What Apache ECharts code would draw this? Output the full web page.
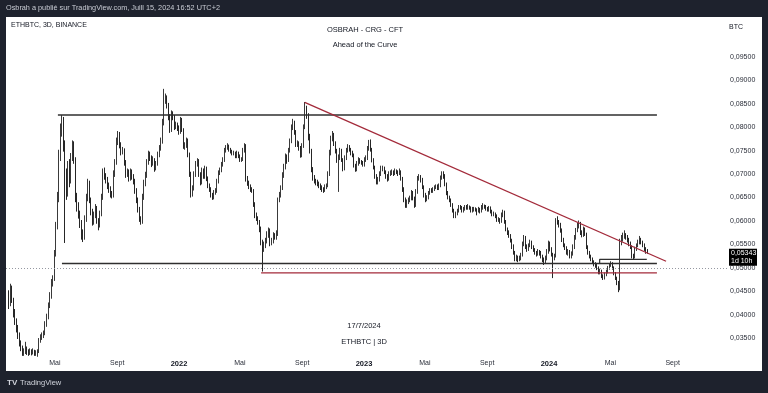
<!DOCTYPE html>
<html><head><meta charset="utf-8">
<script src="https://cdn.jsdelivr.net/npm/echarts@6/dist/echarts.min.js"></script>
<style>
html,body{margin:0;padding:0;background:#1e222d;width:768px;height:393px;overflow:hidden;}
#panel{position:absolute;left:6px;top:17px;width:756px;height:354px;background:#ffffff;}
#chart{position:absolute;left:0;top:0;width:768px;height:393px;}
</style></head><body>
<div id="panel"></div><div id="chart"></div>
<script>
// ETHBTC, 3D candles, Binance. Each row: [open, high, low, close] in units of 0.0001 BTC
const startDate = '2021-01-30';
const periodDays = 3;
const priceUnit = 0.0001;
const candles2021 = [
[440,452,412,420],[420,466,418,457],[457,462,425,430],[430,436,394,400],[400,412,378,385],[385,392,362,372],[372,378,348,355],[355,362,332,339],[339,345,322,328],[328,334,312,318],
[318,328,312,320],[320,342,316,326],[326,332,314,322],[322,326,312,318],[318,328,314,321],[321,326,313,319],[319,328,315,322],[322,325,312,318],[318,324,312,318],[318,326,310,320],
[320,350,318,345],[345,358,340,352],[352,362,346,356],[356,366,350,360],[360,386,356,380],[380,402,374,395],[395,426,390,420],[420,448,414,440],[440,476,434,470],[470,484,460,476],
[476,538,472,530],[530,598,524,590],[590,662,582,650],[650,752,640,740],[740,808,728,795],[795,826,780,815],[815,822,748,760],[760,772,553,700],[700,712,645,660],[660,728,652,720],
[720,732,672,685],[685,745,680,737],[737,772,728,765],[765,770,722,730],[730,736,640,650],[650,660,620,630],[630,640,605,615],[615,622,585,595],[595,602,560,570],[570,582,555,565],
[565,612,560,605],[605,658,598,650],[650,690,642,680],[680,686,638,645],[645,650,612,620],[620,626,590,598],[598,620,592,612],[612,636,606,628],[628,632,594,600],[600,606,580,590],
[590,622,586,616],[616,658,610,650],[650,712,645,705],[705,714,688,695],[695,702,680,688],[688,694,668,675],[675,682,660,668],[668,674,650,657],[657,664,648,655],[655,708,650,700],
[700,732,694,725],[725,778,720,770],[770,792,762,785],[785,790,755,762],[762,768,740,748],[748,758,742,750],[750,755,718,725],[725,730,692,700],[700,712,694,705],[705,710,684,690],
[690,712,686,705],[705,710,688,695],[695,700,678,685],[685,690,658,665],[665,670,638,645],[645,650,618,625],[625,630,598,605],[605,610,592,598],[598,658,594,650],[650,688,645,680],
[680,705,674,698],[698,732,692,725],[725,750,720,742],[742,748,728,735],[735,740,715,722],[722,738,718,730],[730,734,705,712],[712,728,708,722],[722,748,718,742],[742,762,736,755],
[755,778,750,770],[770,818,765,810],[810,882,804,860],[860,872,850,862],[862,868,840,848],[848,852,815,822],[822,828,788,795],[795,836,790,828],[828,834,815,822],[822,826,794,800],
[800,812,796,805],[805,810,792,800]
];
const candles2022 = [
[800,804,784,790],[790,822,786,815],[815,820,790,795],[795,798,754,760],[760,768,752,762],[762,778,756,773],[773,776,736,742],[742,746,694,700],[700,705,650,660],[660,676,652,670],
[670,706,665,700],[700,728,694,722],[722,734,716,728],[728,732,694,700],[700,704,676,682],[682,714,678,708],[708,712,690,695],[695,718,690,712],[712,716,685,690],[690,695,670,676],
[676,680,662,668],[668,672,650,655],[655,660,645,650],[650,666,646,660],[660,670,656,664],[664,690,660,685],[685,708,680,702],[702,714,698,708],[708,726,704,720],[720,736,716,730],
[730,756,726,750],[750,762,746,756],[756,766,752,760],[760,763,748,752],[752,756,744,748],[748,752,740,744],[744,750,740,745],[745,748,734,738],[738,750,734,744],[744,748,734,738],
[738,742,726,730],[730,736,726,730],[730,756,728,750],[750,766,746,762],[762,764,684,690],[690,696,675,680],[680,686,668,673],[673,678,662,668],[668,672,660,665],[665,668,630,635],
[635,640,606,612],[612,618,600,605],[605,610,592,597],[597,602,576,582],[582,588,548,555],[555,560,492,540],[540,556,534,548],[548,564,542,558],[558,578,552,570],[570,586,564,580],
[580,584,546,553],[553,564,548,558],[558,576,552,570],[570,574,560,566],[566,580,560,572],[572,650,568,645],[645,662,640,655],[655,676,650,670],[670,704,666,698],[698,722,692,715],
[715,744,710,737],[737,742,722,730],[730,756,726,750],[750,776,746,770],[770,806,766,800],[800,818,794,810],[810,814,784,790],[790,794,758,765],[765,772,758,765],[765,770,750,755],
[755,760,735,740],[740,766,736,760],[760,806,756,800],[800,854,796,840],[840,846,818,825],[825,830,772,780],[780,786,744,750],[750,754,704,710],[710,715,686,692],[692,698,680,685],
[685,690,676,682],[682,688,674,680],[680,684,670,676],[676,680,666,672],[672,676,662,668],[668,672,660,666],[666,678,662,672],[672,680,668,675],[675,706,672,700],[700,752,696,745],
[745,782,740,775],[775,792,770,785],[785,788,760,765],[765,770,744,750],[750,754,724,730],[730,742,662,735],[735,756,730,750],[750,754,726,730],[730,734,706,712],[712,740,708,735],
[735,756,730,750],[750,764,746,758],[758,762,748,752],[752,756,740,745],[745,750,736,740],[740,744,714,718],[718,722,705,710],[710,728,706,722],[722,736,718,730],[730,734,722,726],
[726,730,720,724],[724,728,716,720]
];
const candles2023 = [
[720,736,716,730],[730,740,726,735],[735,760,730,755],[755,773,750,770],[770,774,748,752],[752,756,725,730],[730,734,710,715],[715,718,690,695],[695,700,678,683],[683,694,678,688],
[688,706,684,700],[700,718,696,712],[712,718,706,712],[712,716,700,705],[705,708,690,695],[695,700,684,690],[690,706,686,700],[700,708,696,702],[702,710,698,705],[705,708,696,702],
[702,712,698,706],[706,710,700,705],[705,708,696,702],[702,712,698,706],[706,708,686,690],[690,694,662,668],[668,672,640,645],[645,650,628,632],[632,646,628,640],[640,650,636,645],
[645,654,640,648],[648,666,644,660],[660,664,644,648],[648,652,628,633],[633,668,630,662],[662,696,658,690],[690,700,686,695],[695,698,682,688],[688,692,668,672],[672,676,650,655],
[655,660,640,645],[645,655,642,650],[650,664,646,660],[660,670,656,666],[666,670,660,664],[664,672,660,668],[668,676,664,672],[672,678,668,675],[675,678,666,670],[670,680,666,675],
[675,697,672,692],[692,706,688,702],[702,706,690,696],[696,700,674,678],[678,682,655,660],[660,664,646,650],[650,654,640,645],[645,648,630,635],[635,638,618,622],[622,626,606,610],
[610,620,606,615],[615,626,612,622],[622,634,618,630],[630,634,624,628],[628,632,618,622],[622,630,618,626],[626,634,622,630],[630,634,624,628],[628,636,624,630],[630,633,624,628],
[628,631,618,622],[622,630,618,625],[625,630,620,626],[626,629,620,624],[624,627,612,622],[622,630,618,626],[626,628,616,620],[620,634,618,628],[628,638,624,632],[632,635,626,630],
[630,634,622,626],[626,630,620,624],[624,632,620,628],[628,631,616,620],[620,624,610,615],[615,620,610,615],[615,618,606,610],[610,614,598,602],[602,608,598,603],[603,606,594,598],
[598,618,596,612],[612,624,608,618],[618,622,594,598],[598,602,578,582],[582,586,570,575],[575,580,564,568],[568,572,554,558],[558,562,540,545],[545,550,528,532],[532,536,514,518],
[518,528,514,522],[522,526,512,518],[518,526,514,520],[520,532,516,528],[528,556,524,550],[550,570,546,565],[565,568,540,545],[545,550,534,540],[540,552,536,548],[548,560,544,555],
[555,558,540,545],[545,548,534,538],[538,542,528,533],[533,536,524,530],[530,540,526,535],[535,538,526,532],[532,536,520,525],[525,528,512,518],[518,522,506,512],[512,526,508,520],
[520,540,516,535],[535,558,530,552]
];
const candles2024 = [
[552,556,535,540],[540,544,524,528],[528,532,478,522],[522,530,516,525],[525,606,522,600],[600,610,592,598],[598,602,586,592],[592,596,575,580],[580,584,555,560],[560,564,544,548],
[548,552,538,542],[542,546,528,532],[532,540,526,535],[535,538,520,525],[525,535,520,530],[530,550,526,545],[545,570,540,565],[565,585,560,580],[580,596,576,590],[590,601,584,595],
[595,598,570,575],[575,580,565,570],[570,588,566,582],[582,586,568,572],[572,575,540,545],[545,548,528,532],[532,536,520,525],[525,528,514,518],[518,522,508,513],[513,516,503,508],
[508,512,500,505],[505,508,495,500],[500,503,486,490],[490,498,486,493],[493,496,478,482],[482,486,474,478],[478,490,475,485],[485,496,482,492],[492,504,488,500],[500,510,496,506],
[506,514,502,510],[510,512,496,500],[500,503,484,488],[488,491,474,478],[478,481,463,468],[468,472,448,455],[455,562,452,555],[555,570,548,562],[562,575,556,568],[568,580,562,570],
[570,574,560,566],[566,570,554,560],[560,564,546,552],[552,556,540,545],[545,548,520,525],[525,530,518,522],[522,545,520,540],[540,552,536,548],[548,560,544,555],[555,568,550,560],
[560,564,550,555],[555,558,544,548],[548,552,536,540],[540,544,530,535],[535,540,530,534.3]
];
const lastPrice = 0.05343;
const countdown = '1d 10h';
const yTicks = [0.035,0.040,0.045,0.050,0.055,0.060,0.065,0.070,0.075,0.080,0.085,0.090,0.095];
const xTicks = ['2021-05-01','2021-09-01','2022-01-01','2022-05-01','2022-09-01','2023-01-01','2023-05-01','2023-09-01','2024-01-01','2024-05-01','2024-09-01'];
const resistanceTop = [['2021-05-07',0.0826],['2024-08-01',0.0826]];
const supportBlack = [['2021-05-15',0.0509],['2024-08-01',0.0509]];
const supportRed = [['2022-06-12',0.0489],['2024-08-01',0.0489]];
const trendRed = [['2022-09-06',0.0853],['2024-08-19',0.0514]];
const rangeBox = [['2024-04-10',0.0509],['2024-04-10',0.0518],['2024-07-12',0.0518]];
const xRange = ['2021-01-24T14:24:00Z','2024-12-21T04:48:00Z'];
const yRange = [0.03117, 0.10354];

const DAY = 86400000;
const t0 = Date.parse(startDate);
const allCandles = candles2021.concat(candles2022, candles2023, candles2024);
const source = allCandles.map((r, i) => [t0 + i * periodDays * DAY, r[0]*priceUnit, r[3]*priceUnit, r[2]*priceUnit, r[1]*priceUnit]);
const toPts = arr => arr.map(p => [Date.parse(p[0]), p[1]]);
const FONT = '"Liberation Sans", Arial, sans-serif';

const chart = echarts.init(document.getElementById('chart'), null, {renderer: 'canvas'});
function lineSeries(pts, color, w) {
  return {type: 'line', data: toPts(pts), symbol: 'none', silent: true, z: 4, animation: false,
    lineStyle: {color: color, width: w}};
}
chart.setOption({
  animation: false,
  backgroundColor: 'transparent',
  textStyle: {fontFamily: FONT},
  grid: {left: 6, right: 39, top: 17, bottom: 37, containLabel: false},
  xAxis: {
    type: 'value', min: Date.parse(xRange[0]), max: Date.parse(xRange[1]),
    axisLine: {show: false}, axisTick: {show: false}, splitLine: {show: false},
    axisLabel: {
      customValues: xTicks.map(d => Date.parse(d)),
      margin: 4, fontSize: 7, color: '#2a2e39', fontFamily: FONT,
      formatter: function (v) {
        const d = new Date(v); const m = d.getUTCMonth();
        if (m === 0) return '{y|' + d.getUTCFullYear() + '}';
        return m === 4 ? 'Mai' : 'Sept';
      },
      rich: {y: {fontWeight: 'bold', fontSize: 7.5, color: '#131722', fontFamily: FONT}}
    }
  },
  yAxis: {
    type: 'value', position: 'right', min: yRange[0], max: yRange[1],
    axisLine: {show: false}, axisTick: {show: false}, splitLine: {show: false},
    axisLabel: {
      customValues: yTicks, margin: 1, fontSize: 7, color: '#2a2e39', fontFamily: FONT,
      formatter: v => v.toFixed(5).replace('.', ',')
    }
  },
  series: [
    {
      type: 'candlestick', data: source, barWidth: 1.2, z: 2,
      itemStyle: {color: '#6e6e6e', color0: '#2c2c2c', borderColor: '#3a3a3a', borderColor0: '#262626', borderWidth: 1},
      markLine: {
        silent: true, symbol: ['none', 'none'], label: {show: false},
        lineStyle: {color: '#9598a1', width: 1, type: [1, 2]},
        data: [{yAxis: lastPrice}]
      }
    },
    lineSeries(resistanceTop, '#2f2f2f', 1.5),
    lineSeries(supportBlack, '#2f2f2f', 1.5),
    lineSeries(supportRed, '#a32a3a', 1.3),
    lineSeries(trendRed, '#a32a3a', 1.3),
    lineSeries(rangeBox, '#2f2f2f', 1.2)
  ]
});

const yLast = chart.convertToPixel({yAxisIndex: 0}, lastPrice);
const dark = '#131722';
chart.setOption({
  graphic: [
    {type: 'text', left: 6, top: 4, style: {text: 'Osbrah a publié sur TradingView.com, Juill 15, 2024 16:52 UTC+2', fill: '#c9ccd4', font: '7.3px ' + FONT}},
    {type: 'text', left: 11, top: 22, style: {text: 'ETHBTC, 3D, BINANCE', fill: dark, font: '7px ' + FONT}},
    {type: 'text', x: 365, y: 30, style: {text: 'OSBRAH - CRG - CFT', fill: dark, font: '7.5px ' + FONT, align: 'center', verticalAlign: 'middle'}},
    {type: 'text', x: 365, y: 45, style: {text: 'Ahead of the Curve', fill: dark, font: '7.5px ' + FONT, align: 'center', verticalAlign: 'middle'}},
    {type: 'text', x: 729, y: 27, style: {text: 'BTC', fill: dark, font: '7px ' + FONT, verticalAlign: 'middle'}},
    {type: 'text', x: 364, y: 326, style: {text: '17/7/2024', fill: dark, font: '7.5px ' + FONT, align: 'center', verticalAlign: 'middle'}},
    {type: 'text', x: 364, y: 342, style: {text: 'ETHBTC | 3D', fill: dark, font: '7.5px ' + FONT, align: 'center', verticalAlign: 'middle'}},
    {type: 'rect', shape: {x: 729, y: yLast - 3, width: 28, height: 17}, style: {fill: '#000000'}, z: 100},
    {type: 'text', x: 731, y: yLast + 1.5, z: 101, style: {text: lastPrice.toFixed(5).replace('.', ','), fill: '#ffffff', font: '7px ' + FONT, verticalAlign: 'middle'}},
    {type: 'text', x: 731, y: yLast + 9.5, z: 101, style: {text: countdown, fill: '#ffffff', font: '7px ' + FONT, verticalAlign: 'middle'}},
    {type: 'text', x: 7, y: 383, style: {text: 'TV', fill: '#d1d4dc', font: 'bold 8px ' + FONT, verticalAlign: 'middle'}},
    {type: 'text', x: 20, y: 383, style: {text: 'TradingView', fill: '#d1d4dc', font: '7.5px ' + FONT, verticalAlign: 'middle'}}
  ]
});
</script></body></html>
